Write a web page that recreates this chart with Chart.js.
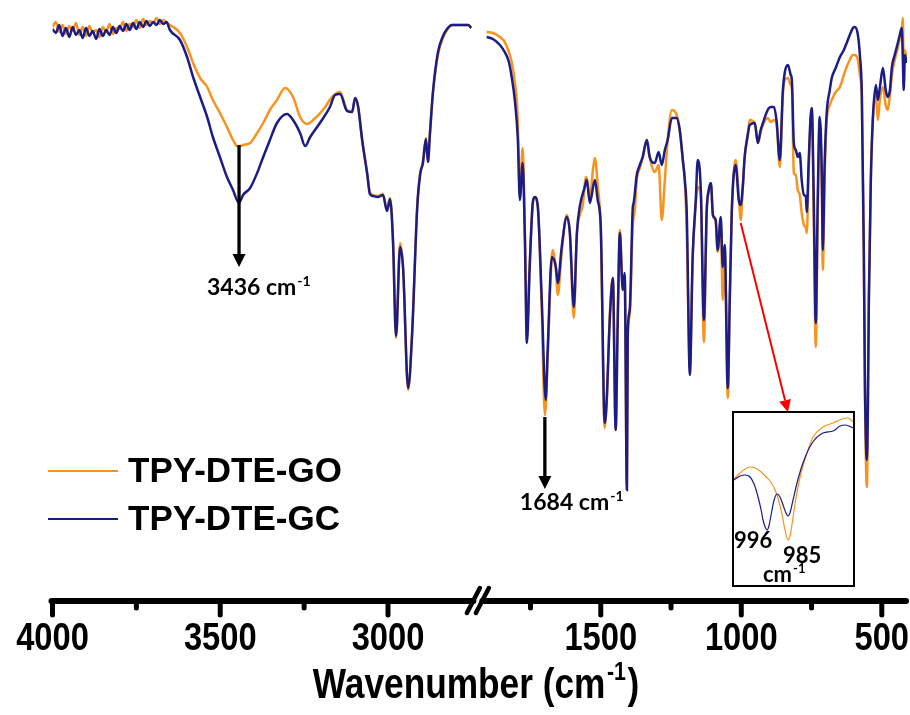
<!DOCTYPE html>
<html><head><meta charset="utf-8">
<script src="https://cdn.jsdelivr.net/npm/chart.js@4.4.1/dist/chart.umd.min.js"></script>
<style>
html,body{margin:0;padding:0;background:#fff;}
#wrap{position:relative;width:910px;height:715px;overflow:hidden;}
#main{position:absolute;left:0;top:0;}
#insetBox{position:absolute;left:732px;top:411px;width:119px;height:172px;border:2px solid #000;background:#fff;}
#inset{display:block;}
</style></head><body>
<div id="wrap"><canvas id="main" width="910" height="715"></canvas>
<div id="insetBox"><canvas id="inset" width="119" height="172"></canvas></div></div>
<script>
// ---------------- DATA ----------------
const SERIES_NAMES = ['TPY-DTE-GO', 'TPY-DTE-GC'];
const TICK_WN = [4000, 3750, 3500, 3250, 3000, 1750, 1500, 1250, 1000, 750, 500];
const TICK_LABELS = ['4000', '', '3500', '', '3000', '', '1500', '', '1000', '', '500'];

// high-wavenumber segment (noisy region, 4000-3660 cm-1)
const WN_NOISE = [4000,3990,3980,3970,3960,3950,3940,3930,3920,3910,3900,3890,3880,3870,3860,3850,3840,3830,3820,3810,3800,3790,3780,3770,3760,3750,3740,3730,3720,3710,3700,3690,3680,3670,3660];
const T_NOISE_GO = [114.8,115.8,113.8,115.2,113.4,115.0,114.0,115.6,113.2,114.8,113.0,115.0,113.6,114.2,112.8,114.8,113.8,115.4,113.4,114.6,114.4,115.8,114.0,115.4,114.8,116.2,114.6,116.4,115.2,116.0,115.6,116.6,115.4,116.2,115.6];
const T_NOISE_GC = [114.4,113.6,115.2,113.0,114.6,112.8,114.8,113.2,114.2,112.6,114.6,113.0,114.0,112.4,114.4,113.0,114.2,113.2,114.8,113.6,115.0,114.0,115.4,114.2,115.6,114.4,115.8,114.8,116.0,115.0,115.8,115.2,116.2,115.4,115.8];

// high-wavenumber segment (3650-2750 cm-1)
const WN_LEFT_GO = [3650,3620,3599,3581,3560,3539,3522,3501,3480,3462,3447,3432,3411,3390,3372,3352,3331,3307,3283,3262,3241,3223,3194,3164,3143,3122,3107,3098,3089,3077,3062,3054,3045,3030,3015,3003,2994,2985,2976,2964,2955,2940,2928,2913,2904,2896,2887,2881,2875,2866,2851,2836,2824,2809,2785,2761,2752];
const T_LEFT_GO = [115.2,113.6,110.8,107.6,104.6,102.8,100.2,97.6,94.8,92.2,90.8,91.2,91.6,93.6,95.6,98.2,100.2,102.6,100.8,96.8,95.4,96.2,98.2,101.0,101.8,98.2,97.8,100.6,99.0,92.2,85.6,81.8,81.2,81.0,81.4,78.2,80.6,72.2,52.6,71.6,66.6,42.2,53.6,78.8,85.6,87.6,92.6,87.8,93.6,101.6,109.2,112.6,114.2,115.2,115.2,115.2,114.6];
const WN_LEFT_GC = [3650,3620,3599,3581,3560,3539,3522,3501,3480,3462,3444,3432,3411,3390,3372,3352,3331,3301,3283,3262,3247,3232,3203,3173,3158,3143,3122,3107,3098,3089,3077,3062,3054,3045,3030,3015,3003,2994,2985,2976,2964,2955,2940,2928,2913,2904,2896,2887,2881,2875,2866,2851,2836,2824,2809,2785,2761,2752];
const T_LEFT_GC = [114.2,112.2,108.8,104.8,100.8,96.8,92.8,88.8,84.8,82.2,79.6,81.2,82.6,85.6,88.8,92.2,95.6,97.4,96.2,93.6,91.0,92.8,95.6,98.8,101.2,101.4,98.0,97.8,100.6,98.8,92.2,85.4,81.4,81.0,80.8,81.2,78.0,80.4,71.8,53.0,70.8,66.6,42.6,53.6,78.6,85.4,87.6,92.4,87.8,93.4,101.8,109.8,113.0,114.4,115.2,115.2,115.2,114.6];

// low-wavenumber segment (1906-411 cm-1)
const WN_RIGHT_GO = [1906,1884,1859,1842,1827,1817,1806,1799,1795,1788,1778,1770,1763,1753,1742,1735,1724,1710,1699,1689,1678,1671,1660,1653,1639,1621,1610,1596,1585,1575,1564,1553,1546,1539,1528,1521,1511,1500,1486,1479,1468,1457,1447,1440,1432,1425,1422,1415,1407,1404,1397,1386,1379,1372,1361,1351,1336,1326,1308,1294,1283,1272,1262,1247,1230,1219,1208,1201,1194,1183,1173,1162,1155,1144,1133,1123,1116,1108,1101,1091,1084,1073,1066,1059,1048,1041,1034,1020,1009,1002,995,988,977,970,952,941,931,923,906,895,884,874,863,852,845,834,824,820,813,806,799,792,785,777,770,767,760,753,749,742,735,728,721,713,710,703,696,685,678,664,649,635,625,614,603,596,585,578,571,564,560,553,550,546,539,532,521,514,507,496,486,479,471,464,454,443,436,429,425,422,418,411];
const T_RIGHT_GO = [113.8,113.6,112.8,111.8,109.8,107.8,103.8,100.2,95.2,81.2,90.6,74.2,53.2,67.2,79.6,80.8,78.8,58.2,37.2,48.2,65.2,70.2,66.6,61.2,69.8,77.2,73.6,56.6,73.2,77.2,79.2,84.8,83.6,80.2,86.2,88.6,83.2,74.2,34.6,39.2,57.2,64.6,34.2,56.2,74.2,65.8,62.2,65.2,22.2,52.6,57.2,75.2,78.2,84.2,86.6,88.6,92.2,88.8,85.8,87.2,76.2,84.2,92.2,98.2,97.2,94.2,88.2,84.2,73.6,46.6,68.8,79.2,82.8,81.2,51.8,77.8,81.8,83.2,77.2,75.8,69.8,76.2,60.2,71.2,40.6,60.2,77.6,88.2,81.2,76.2,82.2,88.8,93.2,96.2,95.6,91.6,93.8,95.2,96.6,95.8,96.2,95.2,86.8,101.2,104.2,104.6,103.2,102.6,85.6,85.2,82.2,81.2,77.6,75.2,74.6,73.6,86.2,96.2,97.8,76.2,50.8,76.2,96.2,80.2,66.2,85.2,96.2,99.2,100.2,101.8,102.8,105.2,106.8,108.2,109.2,109.2,108.2,105.2,100.8,70.2,42.2,22.8,34.2,60.2,84.2,96.2,101.2,96.2,100.2,102.8,99.2,98.2,101.2,105.2,108.2,110.6,112.6,114.2,116.6,103.2,110.2,108.2];
const WN_RIGHT_GC = [1906,1884,1859,1842,1827,1817,1806,1795,1788,1778,1770,1763,1753,1742,1735,1724,1710,1696,1689,1674,1660,1653,1639,1621,1610,1596,1585,1575,1557,1550,1539,1521,1511,1500,1486,1479,1468,1457,1447,1440,1432,1425,1422,1415,1407,1404,1397,1386,1383,1372,1361,1351,1336,1326,1308,1294,1283,1272,1262,1247,1230,1219,1208,1201,1194,1183,1173,1162,1155,1144,1133,1123,1116,1108,1101,1091,1084,1073,1066,1059,1048,1041,1034,1020,1009,1002,995,988,977,970,952,941,931,923,906,895,884,874,863,852,845,834,824,820,813,806,799,792,785,777,770,767,760,753,749,742,735,728,721,713,710,703,696,685,678,664,649,635,625,614,603,596,585,578,571,564,560,553,550,546,539,532,521,514,507,496,486,479,471,464,454,443,436,429,425,422,418,411];
const T_RIGHT_GC = [112.8,112.4,111.2,109.8,107.8,104.8,100.2,92.2,80.2,87.6,72.2,51.6,66.8,79.6,80.8,78.8,60.2,40.2,50.2,68.8,66.8,63.6,70.8,76.8,73.6,58.8,73.6,78.8,82.8,84.2,79.6,84.2,80.2,74.8,35.6,40.2,56.2,64.6,34.2,54.8,73.6,64.8,62.2,65.6,22.2,53.6,58.2,78.8,79.6,85.2,87.2,88.8,92.2,88.8,87.6,89.8,87.2,90.2,92.2,96.6,96.6,94.2,88.2,84.2,77.6,45.2,68.8,80.2,88.2,82.2,56.2,78.2,82.2,83.6,77.2,76.2,70.2,76.8,66.8,71.2,42.6,60.2,77.6,87.2,80.2,79.2,82.6,88.8,93.2,95.2,95.6,91.6,94.2,95.6,98.2,98.8,98.8,95.8,88.2,102.2,105.8,107.2,105.2,104.2,91.6,90.2,88.8,89.6,84.2,81.2,80.8,77.8,88.2,97.2,98.6,80.2,55.6,80.2,96.8,84.2,70.2,88.2,97.6,102.2,104.6,106.6,108.8,110.2,111.6,113.2,114.6,114.8,113.2,109.2,101.2,70.2,43.6,28.2,36.4,60.2,84.2,96.2,103.2,100.2,102.6,106.6,102.2,100.8,102.2,106.8,109.2,111.6,113.2,114.6,108.2,102.2,109.2,107.6];

// inset: 1013-951 cm-1
const WN_INSET_GO = [1013.3,1010.1,1007.5,1004.9,1002.3,999.7,997.0,994.4,991.8,989.7,988.1,986.6,985.0,984.0,982.9,981.3,978.7,975.1,971.9,966.7,961.4,956.7,954.1,952.6,951.0];
const T_INSET_GO = [21.2,22.4,23.2,23.6,23.4,22.8,21.8,20.8,19.0,16.6,14.0,11.0,9.0,9.8,12.2,16.4,21.6,26.4,29.6,31.6,32.4,33.2,33.4,33.2,32.6];
const WN_INSET_GC = [1013.3,1010.1,1007.5,1004.9,1002.8,1000.7,999.1,998.1,997.0,996.0,995.0,993.9,992.3,990.8,989.2,987.6,986.1,985.0,984.0,982.4,980.3,977.2,972.4,966.7,961.4,957.8,955.2,953.1,951.0];
const T_INSET_GC = [21.0,21.8,22.0,21.6,20.2,17.6,15.0,13.0,11.6,11.0,11.8,14.0,17.0,18.2,17.6,16.0,14.4,13.8,14.4,17.0,20.4,24.4,28.4,30.4,30.8,31.8,32.0,31.8,31.4];

// annotations
const ANNOT_WN = [3444, 1699];
const ANNOT_FROM = [91.2, 36.8];
const ANNOT_TO = [66.8, 22.4];
const ANNOT_TEXT = ['3436', '1684'];
const ZOOM_ARROW_WN = [1002, 834];
const ZOOM_ARROW_T = [75.6, 37.8];

// ---------------- AXIS BREAK MAPPING ----------------
const BREAK_HI = 2741, BREAK_LO = 1948, RIGHT_SCALE = 0.8376, AXIS_MAX = 2547;
function toAxis(wn) { return wn > 2300 ? 4000 - wn : (4000 - BREAK_HI) + (BREAK_LO - wn) * RIGHT_SCALE; }

function buildSeries(wNoise, tNoise, wL, tL, wR, tR) {
  const pts = [];
  wNoise.forEach((w, i) => pts.push({x: toAxis(w), y: tNoise[i]}));
  wL.forEach((w, i) => pts.push({x: toAxis(w), y: tL[i]}));
  pts.push({x: toAxis(BREAK_HI), y: null});
  wR.forEach((w, i) => pts.push({x: toAxis(w), y: tR[i]}));
  return pts;
}

const ORANGE = '#F7931E', NAVY = '#1C1C85';
const SANS = '"Liberation Sans", Arial, sans-serif';
const LABELFONT = 'Lato, "Open Sans", sans-serif';

function drawArrow(ctx, x1, y1, x2, y2, color, lw, head, hw) {
  const a = Math.atan2(y2 - y1, x2 - x1);
  const bx = x2 - head * Math.cos(a), by = y2 - head * Math.sin(a);
  ctx.save();
  ctx.strokeStyle = color; ctx.fillStyle = color; ctx.lineWidth = lw;
  ctx.beginPath(); ctx.moveTo(x1, y1); ctx.lineTo(bx, by); ctx.stroke();
  ctx.beginPath();
  ctx.moveTo(x2, y2);
  ctx.lineTo(bx + hw * Math.sin(a), by - hw * Math.cos(a));
  ctx.lineTo(bx - hw * Math.sin(a), by + hw * Math.cos(a));
  ctx.closePath(); ctx.fill();
  ctx.restore();
}
function drawSupText(ctx, x, y, base, sup, font, supFont, rise) {
  ctx.font = font; ctx.fillText(base, x, y);
  const w = ctx.measureText(base).width;
  ctx.font = supFont; ctx.fillText(sup, x + w + 1, y - rise);
  return w + 1 + ctx.measureText(sup).width;
}
// condensed text: horizontal squeeze around anchor x
function narrowText(ctx, txt, x, y, font, sx, align) {
  ctx.save();
  ctx.font = font;
  const w = ctx.measureText(txt).width * sx;
  let left = align === 'center' ? x - w / 2 : x;
  ctx.translate(left, y); ctx.scale(sx, 1);
  ctx.textAlign = 'left'; ctx.fillText(txt, 0, 0);
  ctx.restore();
  return w;
}

const decor = {
  id: 'decor',
  afterDraw(chart) {
    const ctx = chart.ctx, xs = chart.scales.x, ys = chart.scales.y, ca = chart.chartArea;
    const y0 = ca.bottom;
    ctx.save();
    ctx.strokeStyle = '#000'; ctx.lineCap = 'round';
    const xb = xs.getPixelForValue(toAxis(BREAK_HI));
    // axis line with break
    ctx.lineWidth = 6;
    ctx.beginPath();
    ctx.moveTo(xs.getPixelForValue(0) - 1, y0); ctx.lineTo(xb - 1.5, y0);
    ctx.moveTo(xb + 7.5, y0); ctx.lineTo(ca.right - 1, y0);
    ctx.stroke();
    // ticks + tick labels
    ctx.fillStyle = '#000'; ctx.textBaseline = 'alphabetic';
    xs.ticks.forEach((t, i) => {
      const px = xs.getPixelForValue(t.value);
      ctx.lineWidth = 5;
      ctx.beginPath(); ctx.moveTo(px, y0); ctx.lineTo(px, y0 + (TICK_LABELS[i] ? 14 : 7)); ctx.stroke();
      if (TICK_LABELS[i]) narrowText(ctx, TICK_LABELS[i], px, 650, 'bold 38px ' + SANS, 0.86, 'center');
    });
    // break slashes
    ctx.lineWidth = 4.5;
    [-1.5, 7.5].forEach(off => {
      ctx.beginPath(); ctx.moveTo(xb + off - 6.5, y0 + 12); ctx.lineTo(xb + off + 6.5, y0 - 13); ctx.stroke();
    });
    // axis title (condensed bold, superscript -1)
    const sx = 0.82, tf = 'bold 43px ' + SANS, sf = 'bold 26px ' + SANS;
    ctx.font = tf; const w1 = ctx.measureText('Wavenumber (cm').width * sx;
    ctx.font = sf; const w2 = ctx.measureText('-1').width * sx;
    ctx.font = tf; const w3 = ctx.measureText(')').width * sx;
    const tx = 476 - (w1 + w2 + w3 + 3) / 2;
    narrowText(ctx, 'Wavenumber (cm', tx, 698, tf, sx, 'left');
    narrowText(ctx, '-1', tx + w1 + 1.5, 680, sf, sx, 'left');
    narrowText(ctx, ')', tx + w1 + w2 + 3, 698, tf, sx, 'left');
    // legend
    chart.data.datasets.forEach((ds, i) => {
      const ly = 471 + i * 48;
      ctx.strokeStyle = ds.borderColor; ctx.lineWidth = 2; ctx.lineCap = 'butt';
      ctx.beginPath(); ctx.moveTo(48, ly); ctx.lineTo(118, ly); ctx.stroke();
      ctx.fillStyle = '#000'; ctx.font = 'bold 35px ' + SANS;
      ctx.textBaseline = 'middle'; ctx.fillText(ds.label, 128, ly + 1);
    });
    ctx.textBaseline = 'alphabetic';
    // peak annotations
    const offs = [-32, -25], base = [295, 510];
    ANNOT_WN.forEach((w, i) => {
      const px = xs.getPixelForValue(toAxis(w));
      drawArrow(ctx, px, ys.getPixelForValue(ANNOT_FROM[i]), px, ys.getPixelForValue(ANNOT_TO[i]), '#000', 3.3, 13, 6.5);
      ctx.fillStyle = '#000';
      drawSupText(ctx, px + offs[i], base[i], ANNOT_TEXT[i] + ' cm', '-1', 'bold 23px ' + LABELFONT, 'bold 14px ' + LABELFONT, 9);
    });
    // zoom arrow (red)
    drawArrow(ctx, xs.getPixelForValue(toAxis(ZOOM_ARROW_WN[0])), ys.getPixelForValue(ZOOM_ARROW_T[0]),
      xs.getPixelForValue(toAxis(ZOOM_ARROW_WN[1])), ys.getPixelForValue(ZOOM_ARROW_T[1]), '#FF0000', 2, 12, 6);
    ctx.restore();
  }
};

new Chart(document.getElementById('main'), {
  type: 'line',
  data: {
    datasets: [
      {label: SERIES_NAMES[0], data: buildSeries(WN_NOISE, T_NOISE_GO, WN_LEFT_GO, T_LEFT_GO, WN_RIGHT_GO, T_RIGHT_GO),
       borderColor: ORANGE, borderWidth: 2.5, pointRadius: 0, cubicInterpolationMode: 'monotone', spanGaps: false, order: 1},
      {label: SERIES_NAMES[1], data: buildSeries(WN_NOISE, T_NOISE_GC, WN_LEFT_GC, T_LEFT_GC, WN_RIGHT_GC, T_RIGHT_GC),
       borderColor: NAVY, borderWidth: 2.5, pointRadius: 0, cubicInterpolationMode: 'monotone', spanGaps: false, order: 0}
    ]
  },
  options: {
    responsive: false, animation: false, devicePixelRatio: 1,
    layout: {padding: {left: 52.5, right: 3, top: 15, bottom: 0}},
    plugins: {legend: {display: false}, tooltip: {enabled: false}},
    scales: {
      x: {
        type: 'linear', min: 0, max: AXIS_MAX,
        grid: {display: false, drawTicks: false}, border: {display: false},
        afterBuildTicks: s => { s.ticks = TICK_WN.map(w => ({value: toAxis(w)})); },
        afterFit: s => { s.height = 114; s.paddingLeft = 0; s.paddingRight = 0; },
        ticks: {display: false, autoSkip: false, maxRotation: 0, minRotation: 0}
      },
      y: {display: false, min: 0, max: 117.2}
    }
  },
  plugins: [decor]
});

const insetText = {
  id: 'insetText',
  afterDraw(chart) {
    const ctx = chart.ctx;
    ctx.save(); ctx.fillStyle = '#000'; ctx.textBaseline = 'alphabetic';
    ctx.font = 'bold 22px ' + LABELFONT;
    ctx.fillText('996', 0, 135);
    ctx.fillText('985', 49, 150);
    drawSupText(ctx, 29, 169, 'cm', '-1', 'bold 22px ' + LABELFONT, 'bold 13px ' + LABELFONT, 9);
    ctx.restore();
  }
};
new Chart(document.getElementById('inset'), {
  type: 'line',
  data: {
    datasets: [
      {label: SERIES_NAMES[0], data: WN_INSET_GO.map((w, i) => ({x: w, y: T_INSET_GO[i]})),
       borderColor: ORANGE, borderWidth: 1.2, pointRadius: 0, cubicInterpolationMode: 'monotone', order: 1},
      {label: SERIES_NAMES[1], data: WN_INSET_GC.map((w, i) => ({x: w, y: T_INSET_GC[i]})),
       borderColor: NAVY, borderWidth: 1.2, pointRadius: 0, cubicInterpolationMode: 'monotone', order: 0}
    ]
  },
  options: {
    responsive: false, animation: false, devicePixelRatio: 1,
    layout: {padding: 0},
    plugins: {legend: {display: false}, tooltip: {enabled: false}},
    scales: {
      x: {type: 'linear', reverse: true, min: 951.0, max: 1013.3, display: false},
      y: {display: false, min: 0, max: 34.4}
    }
  },
  plugins: [insetText]
});
</script></body></html>
